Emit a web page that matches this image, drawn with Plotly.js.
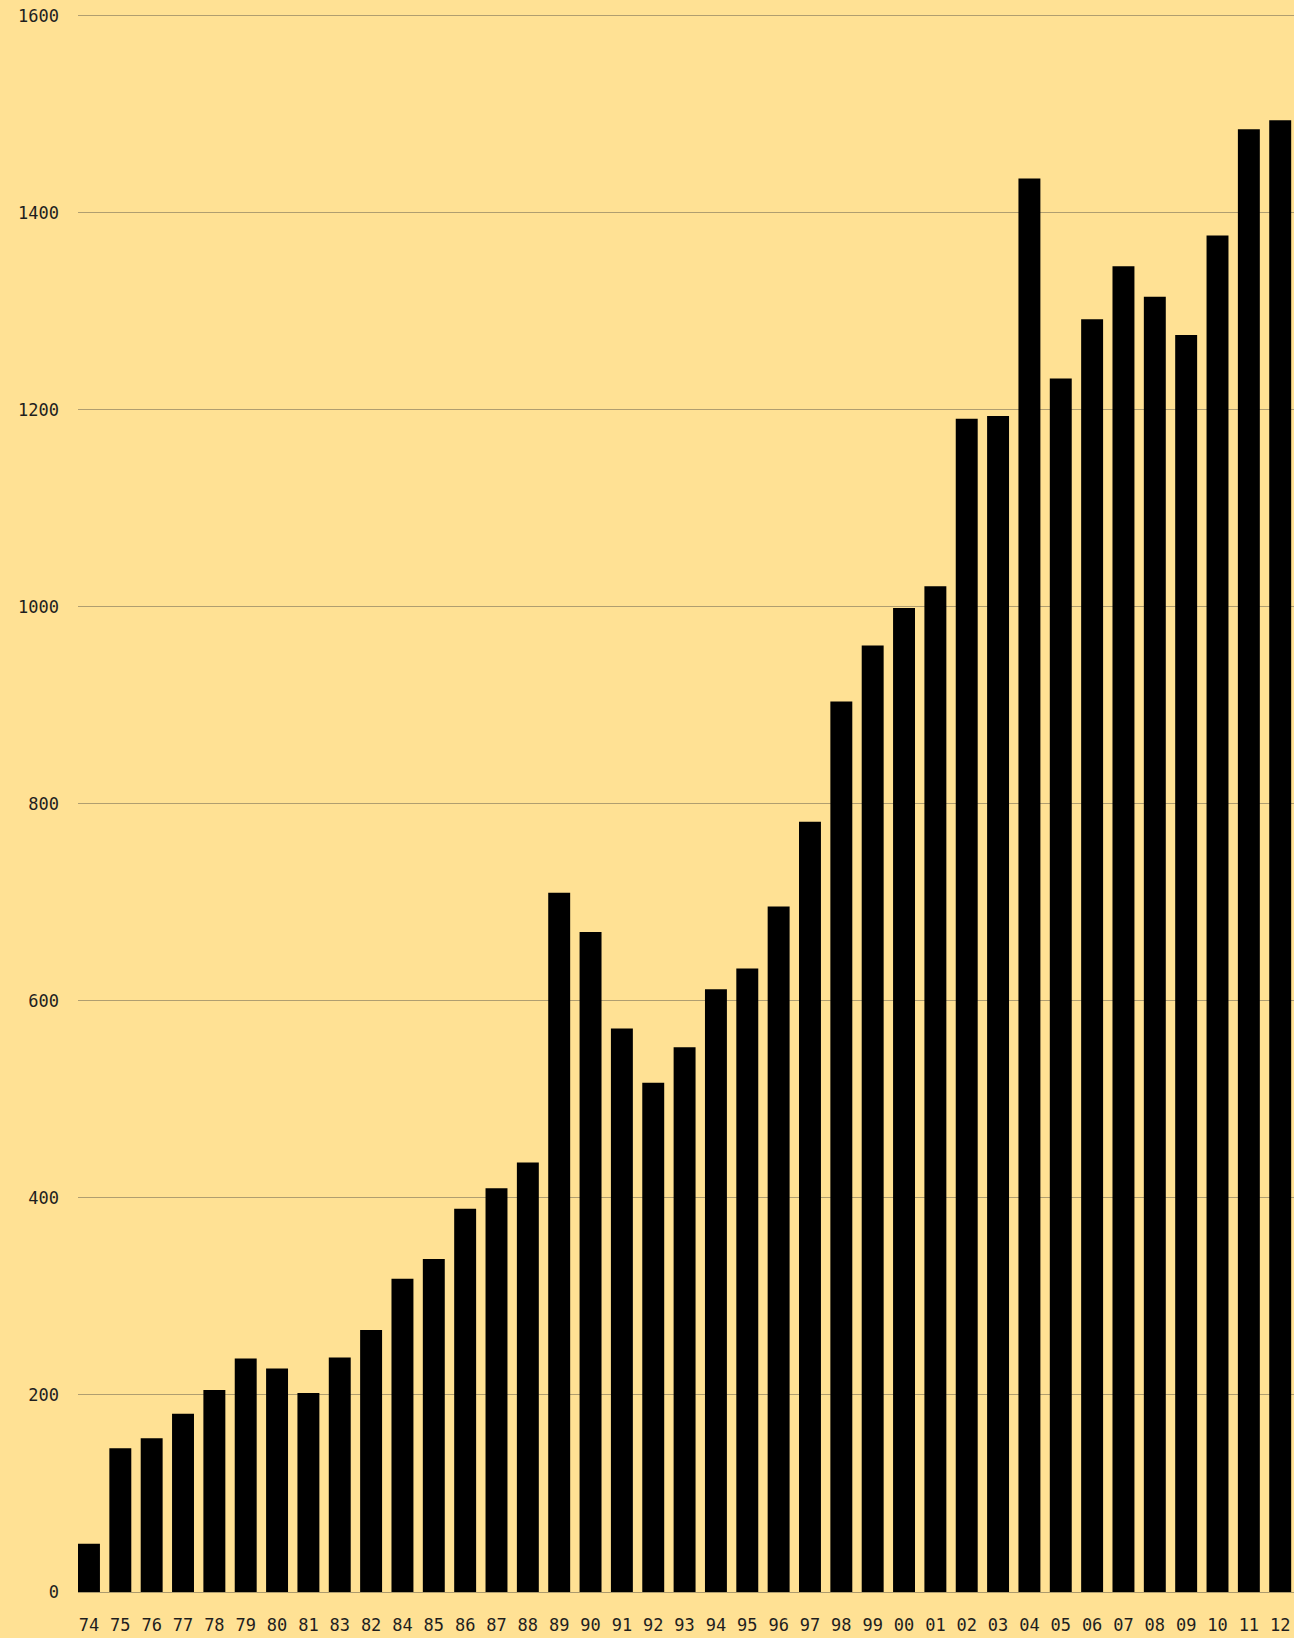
<!DOCTYPE html>
<html>
<head>
<meta charset="utf-8">
<script src="https://cdn.plot.ly/plotly-3.0.1.min.js"></script>
<style>
html,body{margin:0;padding:0;background:#FFE194;}
#chart{width:1294px;height:1638px;}
</style>
</head>
<body>
<div id="chart"></div>
<script>
const years = ["74","75","76","77","78","79","80","81","83","82","84","85","86","87","88","89","90","91","92","93","94","95","96","97","98","99","00","01","02","03","04","05","06","07","08","09","10","11","12"];
const values = [49,146,156,181,205,237,227,202,238,266,318,338,389,410,436,710,670,572,517,553,612,633,696,782,904,961,999,1021,1191,1194,1435,1232,1292,1346,1315,1276,1377,1485,1494];
const yTicks = [0,200,400,600,800,1000,1200,1400,1600];

const fontFam = '"DejaVu Sans Mono", "Liberation Mono", monospace';

Plotly.newPlot('chart', [{
  type: 'bar',
  x: years,
  y: values,
  marker: {color: '#000000', line: {width: 0}},
  hoverinfo: 'x+y'
}], {
  width: 1294,
  height: 1638,
  margin: {l: 78, r: 0, t: 0, b: 46, pad: 0},
  paper_bgcolor: '#FFE194',
  plot_bgcolor: '#FFE194',
  bargap: 0.3,
  showlegend: false,
  font: {family: fontFam, size: 17, color: '#1e1e1e'},
  xaxis: {
    type: 'category',
    range: [-0.35, 38.44],
    showgrid: false,
    showline: true,
    linecolor: '#ad9b6e',
    linewidth: 1,
    ticks: '',
    ticklabelstandoff: 18,
    tickfont: {family: fontFam, size: 17, color: '#1e1e1e'},
    fixedrange: true
  },
  yaxis: {
    range: [0, 1616.2],
    tickvals: yTicks,
    ticktext: yTicks.map(String),
    showgrid: true,
    gridcolor: '#b09e70',
    gridwidth: 1,
    zeroline: false,
    showline: false,
    ticks: '',
    ticklabelstandoff: 18,
    tickfont: {family: fontFam, size: 17, color: '#1e1e1e'},
    fixedrange: true
  }
}, {displayModeBar: false, staticPlot: true});
</script>
</body>
</html>
